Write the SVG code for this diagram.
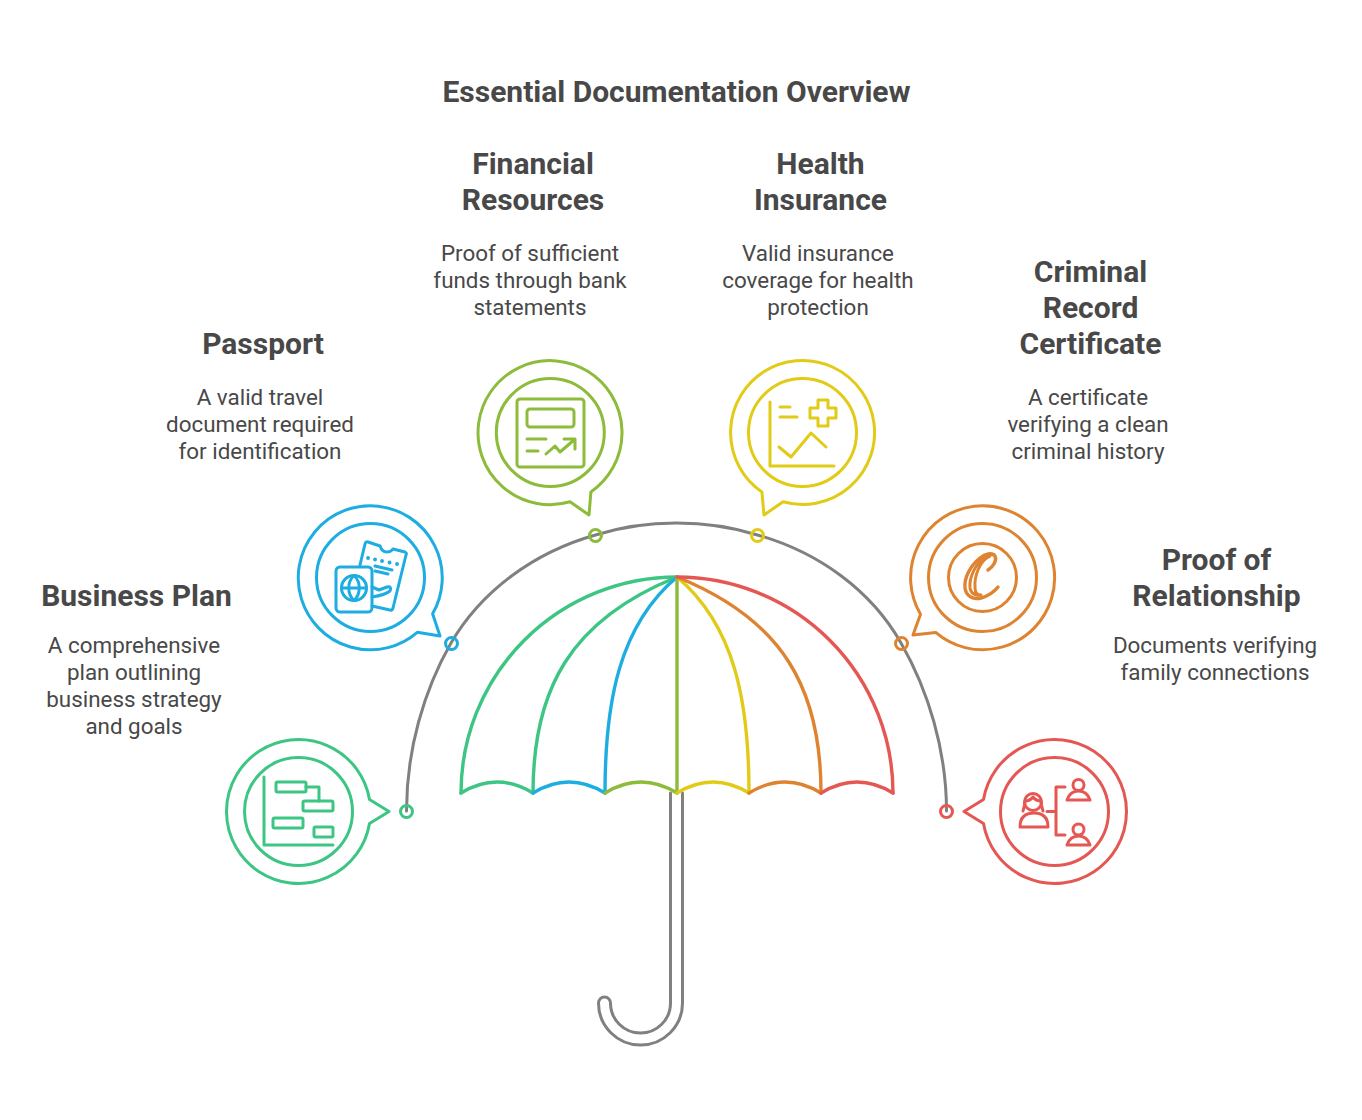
<svg xmlns="http://www.w3.org/2000/svg" width="1362" height="1120" viewBox="0 0 1362 1120">
<style>
text{font-family:Roboto,"Liberation Sans",sans-serif;fill:#484848;text-anchor:middle}
.h{font-size:30px;font-weight:700}
.b{font-size:22.4px;font-weight:400}
path,circle,rect,line,polyline,polygon{fill:none;stroke-width:3;stroke-linecap:round;stroke-linejoin:round}
#canopy path{stroke-width:3.4}
.gy{stroke:#808080}.g{stroke:#3CC583}.bl{stroke:#1DADE0}.l{stroke:#8DBB3A}.y{stroke:#E2CB16}.o{stroke:#DE8431}.r{stroke:#E55753}
</style>
<rect width="1362" height="1120" style="fill:#fff;stroke:none"/>
<text class="h" x="676.500" y="102">Essential Documentation Overview</text>
<g id="connectors">
<path class="gy" d="M406.500 811C406.500 750 424 690 451 643C482 590 535 552 595.500 535C621 527 648 523 676.500 523C705 523 732 527 757.500 535C818 552 871 590 901 643C928 690 946.500 750 946.500 811"/>
<path class="gy" d="M670.500 793V1003A30 30 0 0 1 610.500 1003A6 6 0 0 0 598.500 1003A42 42 0 0 0 682.500 1003V793"/>
</g>
<g id="canopy">
<path class="g" d="M461 793A216 216 0 0 1 677 577"/>
<path class="g" d="M533 793C533 690 570 620 677 577"/>
<path class="bl" d="M605 793C605 700 620 625 677 577"/>
<path class="l" d="M677 793V577"/>
<path class="y" d="M749 793C749 700 734 625 677 577"/>
<path class="o" d="M821 793C821 690 784 620 677 577"/>
<path class="r" d="M893 793A216 216 0 0 0 677 577"/>
<path class="g" d="M461 793Q497 771 533 793"/>
<path class="bl" d="M533 793Q569 771 605 793"/>
<path class="l" d="M605 793Q641 771 677 793"/>
<path class="y" d="M677 793Q713 771 749 793"/>
<path class="o" d="M749 793Q785 771 821 793"/>
<path class="r" d="M821 793Q857 771 893 793"/>
</g>
<g id="node-business-plan">
<path class="g" d="M369.500 799.500A72 72 0 1 0 369.500 823.500L389 811.500Z"/>
<circle class="g" cx="298.500" cy="811.500" r="54"/>
<circle class="g" cx="406.500" cy="811.500" r="6"/>
<path class="g" d="M264 777V845H333"/>
<rect class="g" x="276" y="782" width="30" height="10" rx="1.500"/>
<rect class="g" x="303" y="801" width="30" height="10" rx="1.500"/>
<rect class="g" x="273" y="818" width="30" height="10" rx="1.500"/>
<rect class="g" x="314" y="827" width="19" height="10" rx="1.500"/>
<path class="g" d="M306 787H319V801"/>
<text class="h" x="136.500" y="606">Business Plan</text>
<text class="b" x="134" y="653">A comprehensive</text>
<text class="b" x="134" y="680">plan outlining</text>
<text class="b" x="134" y="707">business strategy</text>
<text class="b" x="134" y="734">and goals</text>
</g>
<g id="node-passport">
<path class="bl" d="M432.600 613.800A72 72 0 1 0 417.300 632.300L440 636Z"/>
<circle class="bl" cx="370.500" cy="577.500" r="54"/>
<circle class="bl" cx="451.500" cy="643.500" r="6"/>
<rect class="bl" x="336" y="567" width="36" height="45" rx="4"/>
<circle class="bl" cx="354" cy="588" r="12.500"/>
<path class="bl" d="M341.500 588H366.500M354 575.500C347 582 347 594 354 600.500C361 594 361 582 354 575.500"/>
<path class="bl" d="M360 565L365 544Q366 541 368 542L380 546Q382 552 387 552Q391 552 393 549L405 552Q407 553 406 555L393 608Q392 611 390 610L372 606"/>
<path class="bl" d="M375 566L392 570M375 571L388 574M372 587L379 590L387 587Q392 586 390 591Q385 595 372 597"/>
<path class="bl" d="M368 558h.1M375 559.500h.1M382 561h.1M389.500 562.500h.1M397 564h.1" style="stroke-width:3.800"/>
<text class="h" x="263" y="354">Passport</text>
<text class="b" x="260" y="405">A valid travel</text>
<text class="b" x="260" y="432">document required</text>
<text class="b" x="260" y="459">for identification</text>
</g>
<g id="node-financial-resources">
<path class="l" d="M590.900 491.900A72 72 0 1 0 570 501.800L589 515Z"/>
<circle class="l" cx="550.300" cy="432.500" r="54"/>
<circle class="l" cx="595.500" cy="535.500" r="6"/>
<rect class="l" x="517" y="399" width="67" height="68" rx="3"/>
<rect class="l" x="527" y="409" width="47" height="18" rx="3"/>
<path class="l" d="M527 439H546M527 451H538M546 454L555 446L560 452L574 440M564 439H575V449"/>
<text class="h" x="533" y="174">Financial</text>
<text class="h" x="533" y="210">Resources</text>
<text class="b" x="530" y="261">Proof of sufficient</text>
<text class="b" x="530" y="288">funds through bank</text>
<text class="b" x="530" y="315">statements</text>
</g>
<g id="node-health-insurance">
<path class="y" d="M761.900 491.900A72 72 0 1 1 783.100 501.800L764 515Z"/>
<circle class="y" cx="802.500" cy="432.500" r="54"/>
<circle class="y" cx="757.500" cy="535.500" r="6"/>
<path class="y" d="M770 402V466H834M780 407H790M780 417H797M779 447L791 457L811 433L826 447"/>
<path class="y" d="M818 400H828V408H836V418H828V426H818V418H810V408H818Z"/>
<text class="h" x="820.500" y="174">Health</text>
<text class="h" x="820.500" y="210">Insurance</text>
<text class="b" x="818" y="261">Valid insurance</text>
<text class="b" x="818" y="288">coverage for health</text>
<text class="b" x="818" y="315">protection</text>
</g>
<g id="node-criminal-record">
<path class="o" d="M920.500 614.200A72 72 0 1 1 935.700 632.400L913 635Z"/>
<circle class="o" cx="982.500" cy="577.500" r="54"/>
<circle class="o" cx="982.500" cy="577.500" r="34"/>
<circle class="o" cx="901.500" cy="643.500" r="6"/>
<path class="o" d="M988 570C994 566 997 560 995 556C992 552 985 554 980 558C970 566 964 578 965 588C966 596 973 600 981 598C988 596 994 592 998 587" style="stroke-width:3.400"/>
<path class="o" d="M985 557C975 564 969 578 970 588C971 594 976 596 981 595M990 556C980 560 974 576 975 588C975 593 978 595 981 595"/>
<text class="h" x="1090.500" y="282">Criminal</text>
<text class="h" x="1090.500" y="318">Record</text>
<text class="h" x="1090.500" y="354">Certificate</text>
<text class="b" x="1088" y="405">A certificate</text>
<text class="b" x="1088" y="432">verifying a clean</text>
<text class="b" x="1088" y="459">criminal history</text>
</g>
<g id="node-proof-of-relationship">
<path class="r" d="M983.500 799.500A72 72 0 1 1 983.500 823.500L964 811.500Z"/>
<circle class="r" cx="1054.500" cy="811.500" r="54"/>
<circle class="r" cx="946.500" cy="811.500" r="6"/>
<circle class="r" cx="1033" cy="802" r="8.500"/>
<path class="r" d="M1023 811Q1025 805 1025 801Q1030 801 1033 797Q1036 801 1041 801Q1041 805 1043 811M1020 827Q1020 813 1034 813Q1048 813 1048 827Z"/>
<path class="r" d="M1047 811.500H1055M1065 787H1056V835H1065"/>
<circle class="r" cx="1078.500" cy="785" r="5.500"/>
<path class="r" d="M1067 800Q1070 791 1078.500 791Q1087 791 1090 800Z"/>
<circle class="r" cx="1078.500" cy="829.500" r="5.500"/>
<path class="r" d="M1067 845Q1070 836 1078.500 836Q1087 836 1090 845Z"/>
<text class="h" x="1216.500" y="570">Proof of</text>
<text class="h" x="1216.500" y="606">Relationship</text>
<text class="b" x="1215" y="653">Documents verifying</text>
<text class="b" x="1215" y="680">family connections</text>
</g>
</svg>
